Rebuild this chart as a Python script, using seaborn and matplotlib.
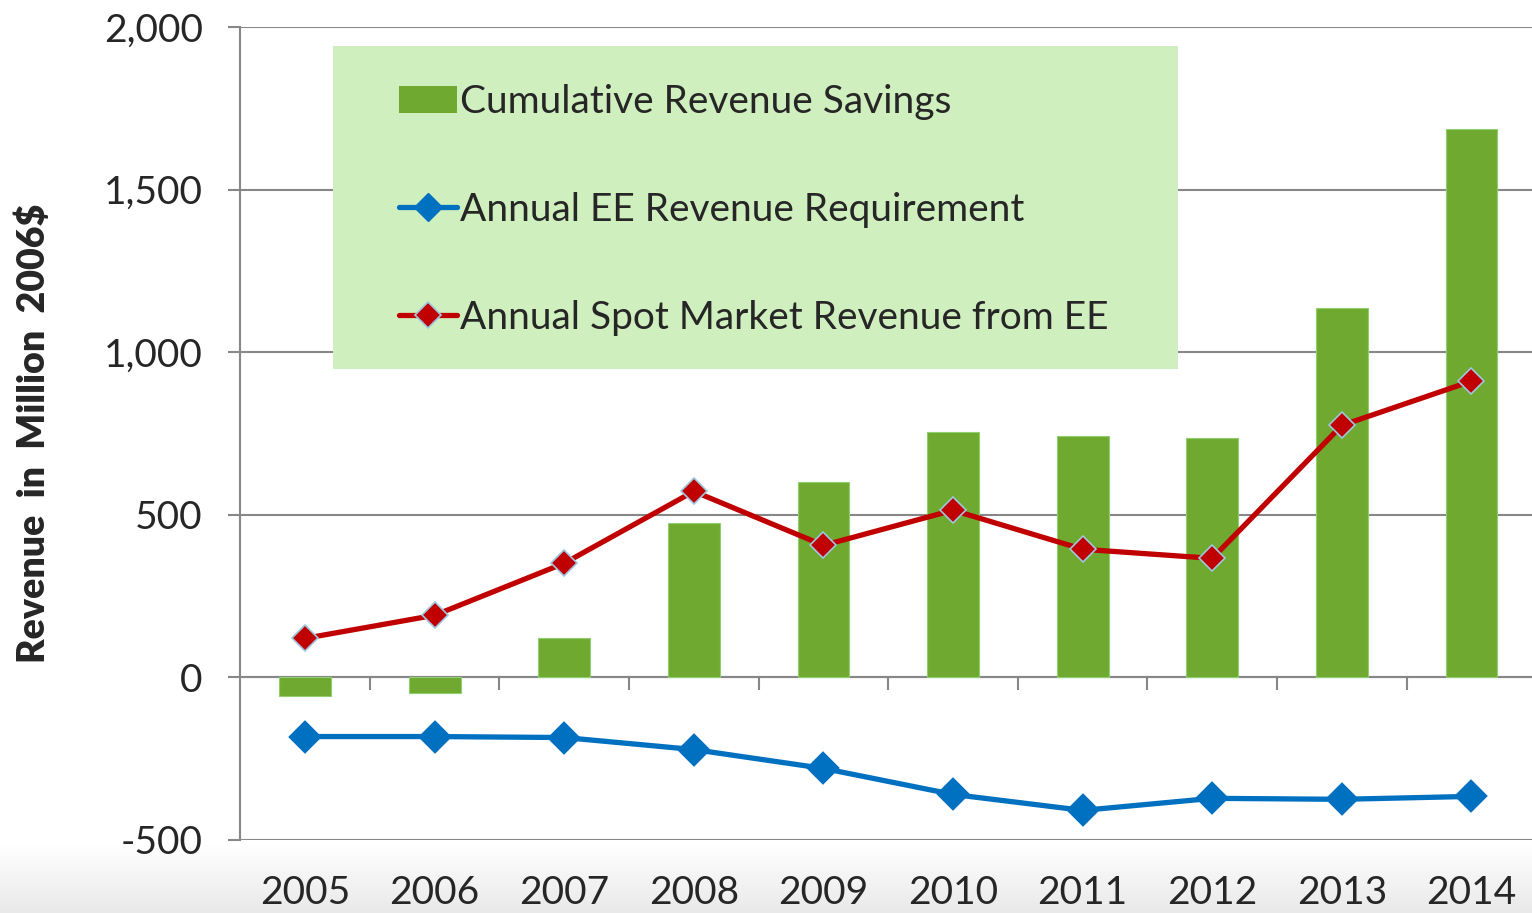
"""EE revenue chart: cumulative savings bars + two annual revenue lines."""
import matplotlib
matplotlib.use("Agg")
import matplotlib.pyplot as plt
import numpy as np
import pandas as pd
import seaborn as sns
from matplotlib.lines import Line2D
from matplotlib.patches import Patch, Rectangle
from matplotlib.ticker import FuncFormatter

# data (Million 2006$)
years = ["2005", "2006", "2007", "2008", "2009", "2010", "2011", "2012", "2013", "2014"]
cumulative_savings = [-58, -49, 120, 474, 600, 754, 742, 735, 1135, 1686]
ee_requirement = [-182, -182, -185, -222, -280, -360, -409, -372, -375, -366]
spot_market_revenue = [120, 191, 351, 572, 406, 514, 394, 366, 775, 911]

y_ticks = [-500, 0, 500, 1000, 1500, 2000]

label_bars = "Cumulative Revenue Savings"
label_blue = "Annual EE Revenue Requirement"
label_red = "Annual Spot Market Revenue from EE"

GREEN = "#6FA92F"
BLUE = "#0070C0"
RED = "#C00000"
GRID = "#878787"
EDGE_RED = "#9cc8e0"

sns.set_theme(style="white")
plt.rcParams["font.family"] = ["Lato", "DejaVu Sans"]
plt.rcParams["axes.unicode_minus"] = False

df = pd.DataFrame({
    "Year": years,
    "Savings": cumulative_savings,
    "Requirement": ee_requirement,
    "Spot": spot_market_revenue,
})

fig = plt.figure(figsize=(15.32, 9.13), dpi=100)

# light grey fade at the very bottom, like the slide background
bg = fig.add_axes([0, 0, 1, 0.075], zorder=-5)
grad = np.linspace(0, 1, 100).reshape(-1, 1)
bg.imshow(grad, aspect="auto", cmap=matplotlib.colors.LinearSegmentedColormap.from_list(
    "fade", ["#e9e9e9", "#ffffff"]), origin="lower", extent=[0, 1, 0, 1])
bg.set_axis_off()

ax = fig.add_axes([0.1568, 0.080, 0.8460, 0.8904])
ax.set_axisbelow(True)

sns.barplot(data=df, x="Year", y="Savings", color=GREEN, width=0.4,
            edgecolor="#8fcf70", linewidth=0.8, saturation=1, ax=ax, zorder=2)
sns.pointplot(data=df, x="Year", y="Requirement", color=BLUE, markers="D",
              markersize=14, linewidth=3.8, markeredgecolor=BLUE, ax=ax, zorder=3)
sns.pointplot(data=df, x="Year", y="Spot", color=RED, markers="D",
              markersize=13, linewidth=3.8, markeredgecolor=EDGE_RED,
              markeredgewidth=1.2, ax=ax, zorder=4)

ax.set_xlim(-0.5, len(years) - 0.5)
ax.set_ylim(y_ticks[0], y_ticks[-1])
ax.set_yticks(y_ticks)
ax.yaxis.set_major_formatter(FuncFormatter(lambda v, _: f"{v:,.0f}"))
ax.grid(axis="y", color=GRID, linewidth=1.5)
ax.grid(axis="x", visible=False)

# x axis line at zero with category separators hanging below it
ax.axhline(0, color=GRID, linewidth=1.5, zorder=1)
bounds = np.arange(len(years) - 1) + 0.5
ax.vlines(bounds, -38, 0, color=GRID, linewidth=1.5, zorder=1)

for side in ["top", "right", "bottom"]:
    ax.spines[side].set_visible(False)
ax.spines["left"].set_color(GRID)
ax.spines["left"].set_linewidth(1.5)

ax.tick_params(axis="y", left=True, length=9, width=1.5, color=GRID,
               labelsize=28, pad=18)
ax.tick_params(axis="x", bottom=False, labelsize=28, pad=19)
ax.set_xlabel("")
ax.set_ylabel("Revenue  in  Million  2006$", fontsize=27, fontweight="heavy", labelpad=38)

# legend panel
ax.add_patch(Rectangle((0.0718, 0.5793), 0.652, 0.3973, transform=ax.transAxes,
                       facecolor="#D0EFBE", edgecolor="none", zorder=1.5))
handles = [
    Patch(facecolor=GREEN, edgecolor="none"),
    Line2D([], [], color=BLUE, linewidth=3.8, marker="D", markersize=14,
           markeredgecolor=BLUE),
    Line2D([], [], color=RED, linewidth=3.8, marker="D", markersize=13,
           markeredgecolor=EDGE_RED, markeredgewidth=1.2),
]
leg = ax.legend(handles, [label_bars, label_blue, label_red], loc="upper left",
                bbox_to_anchor=(0.1225, 0.93), frameon=False, fontsize=28,
                handlelength=1.5, handleheight=0.7, handletextpad=0.08,
                labelspacing=1.85, borderpad=0, borderaxespad=0)
leg.set_zorder(6)

fig.savefig("out.png", dpi=100)
